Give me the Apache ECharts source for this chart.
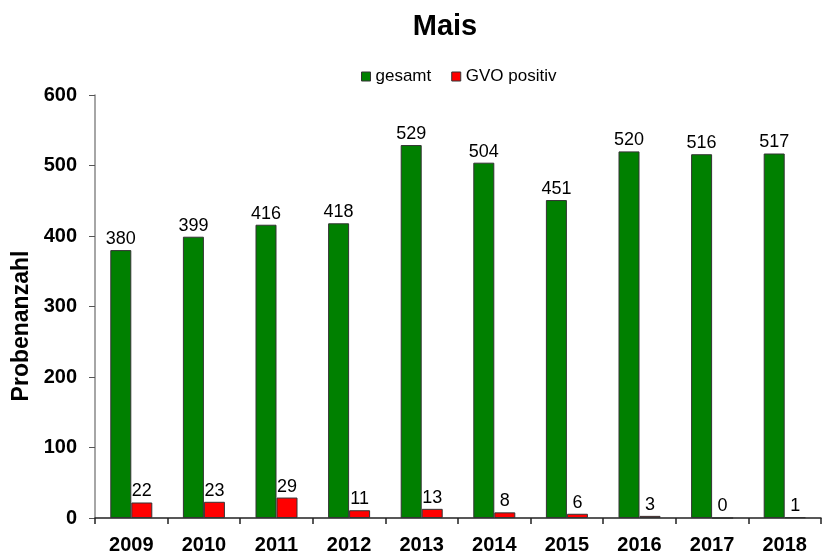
<!DOCTYPE html>
<html>
<head>
<meta charset="utf-8">
<script src="https://cdn.jsdelivr.net/npm/echarts@6/dist/echarts.min.js"></script>
<style>
html,body{margin:0;padding:0;background:#fff;}
#chart{width:827px;height:556px;}
</style>
</head>
<body>
<div id="chart"></div>
<script>
const years = ['2009','2010','2011','2012','2013','2014','2015','2016','2017','2018'];
const gesamt = [380,399,416,418,529,504,451,520,516,517];
const gvoPositiv = [22,23,29,11,13,8,6,3,0,1];
const yTicks = [0,100,200,300,400,500,600];
const yAxisTitle = 'Probenanzahl';

const font = '"Liberation Sans", Arial, sans-serif';
const chart = echarts.init(document.getElementById('chart'));
chart.setOption({
  animation:false,
  backgroundColor:'#fff',
  title:{
    text:'Mais', left:440, top:7, textAlign:'center',
    textStyle:{fontFamily:font,fontWeight:900,fontSize:29,color:'#000'}
  },
  legend:{
    top:63, left:356, itemWidth:9, itemHeight:9, itemGap:20,
    textStyle:{fontFamily:font,fontSize:17,color:'#000'},
    itemStyle:{borderColor:'#333',borderWidth:1},
    data:[{name:'gesamt',icon:'rect'},{name:'GVO positiv',icon:'rect'}]
  },
  grid:{left:95, right:6, top:95, bottom:38, containLabel:false},
  graphic:[{
    type:'text', x:22, y:326, rotation:Math.PI/2,
    style:{text:yAxisTitle, fontFamily:font, fontWeight:'bold', fontSize:23, fill:'#000',
      textAlign:'center', textVerticalAlign:'middle'}
  }],
  xAxis:{
    type:'category', data:years,
    axisLine:{lineStyle:{color:'#222',width:1.5}},
    axisTick:{show:true,length:6,lineStyle:{color:'#222',width:1.5}},
    axisLabel:{fontFamily:font,fontWeight:'bold',fontSize:20,color:'#000',margin:17}
  },
  yAxis:{
    type:'value', min:yTicks[0], max:yTicks[yTicks.length-1], interval:100,
    axisLine:{show:true,lineStyle:{color:'#888',width:1.5}},
    axisTick:{show:true,inside:false,length:6,lineStyle:{color:'#555'}},
    splitLine:{show:false},
    axisLabel:{fontFamily:font,fontWeight:'bold',fontSize:20,color:'#000',margin:18}
  },
  series:[
    {
      name:'gesamt', type:'bar', data:gesamt, barWidth:21, barGap:'0%',
      itemStyle:{color:'#008000',borderColor:'#333',borderWidth:1},
      label:{show:true,position:'top',distance:2,fontFamily:font,fontSize:18,color:'#000'}
    },
    {
      name:'GVO positiv', type:'bar', data:gvoPositiv, barWidth:21,
      itemStyle:{color:'#ff0000',borderColor:'#333',borderWidth:1},
      label:{show:true,position:'top',distance:2,fontFamily:font,fontSize:18,color:'#000'}
    }
  ]
});
</script>
</body>
</html>
